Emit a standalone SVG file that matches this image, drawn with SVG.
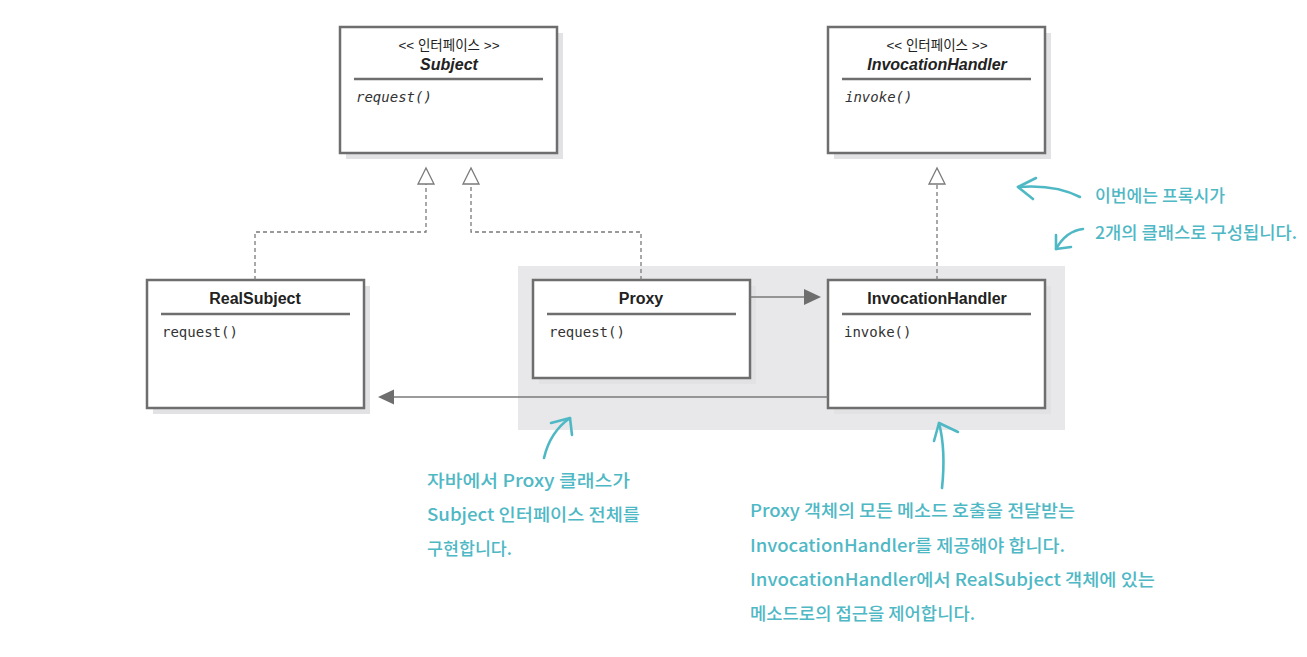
<svg xmlns="http://www.w3.org/2000/svg" width="1307" height="657" viewBox="0 0 1307 657">
<defs>
<style>
.shadow{fill:#e2e2e4}
.box{fill:#ffffff;stroke:#6e6e6e;stroke-width:2.5}
.sep{stroke:#6e6e6e;stroke-width:2.5}
.title{font-family:"Liberation Sans",Arial,sans-serif;font-weight:bold;font-size:16px;fill:#222;text-anchor:middle}
.ititle{font-family:"Liberation Sans",Arial,sans-serif;font-weight:bold;font-style:italic;font-size:16px;fill:#222;text-anchor:middle}
.stereo{font-family:"Liberation Sans","Noto Sans CJK KR",sans-serif;font-size:13.5px;fill:#222;text-anchor:middle}
.meth{font-family:"DejaVu Sans Mono","Liberation Mono",monospace;font-size:14px;fill:#333}
.imeth{font-family:"DejaVu Sans Mono","Liberation Mono",monospace;font-size:14px;fill:#333;font-style:italic}
.dash{fill:none;stroke:#7a7a7a;stroke-width:1.3;stroke-dasharray:4 3}
.hollow{fill:#fff;stroke:#7a7a7a;stroke-width:1.3}
.filled{fill:#6e6e6e}
.solid{fill:none;stroke:#7a7a7a;stroke-width:1.5}
.note{font-family:"Noto Sans CJK KR","Noto Sans",sans-serif;font-size:17px;font-weight:500;fill:#4fb8c5}
.tealline{fill:none;stroke:#4fb8c5;stroke-width:2.6;stroke-linecap:round;stroke-linejoin:round}
</style>
</defs>

<rect id="proxy-area" x="518" y="266" width="547" height="164" fill="#e8e8ea"/>

<g id="subject">
<rect class="shadow" x="346" y="33" width="217" height="126"/>
<rect class="box" x="340" y="27" width="217" height="126"/>
<text class="stereo" x="449" y="50">&lt;&lt; 인터페이스 &gt;&gt;</text>
<text class="ititle" x="449" y="70">Subject</text>
<line class="sep" x1="354" y1="79" x2="543" y2="79"/>
<text class="imeth" x="356" y="102">request()</text>
</g>

<g id="invocationhandler-interface">
<rect class="shadow" x="834" y="33" width="217" height="126"/>
<rect class="box" x="828" y="27" width="217" height="126"/>
<text class="stereo" x="937" y="50">&lt;&lt; 인터페이스 &gt;&gt;</text>
<text class="ititle" x="937" y="70">InvocationHandler</text>
<line class="sep" x1="842" y1="79" x2="1031" y2="79"/>
<text class="imeth" x="845" y="102">invoke()</text>
</g>

<g id="realsubject">
<rect class="shadow" x="153" y="286" width="217" height="128"/>
<rect class="box" x="147" y="280" width="217" height="128"/>
<text class="title" x="255" y="304">RealSubject</text>
<line class="sep" x1="161" y1="314" x2="350" y2="314"/>
<text class="meth" x="162" y="337">request()</text>
</g>

<g id="proxy">
<rect class="shadow" x="539" y="286" width="217" height="98"/>
<rect class="box" x="533" y="280" width="217" height="98"/>
<text class="title" x="641" y="304">Proxy</text>
<line class="sep" x1="547" y1="314" x2="736" y2="314"/>
<text class="meth" x="549" y="337">request()</text>
</g>

<g id="invocationhandler">
<rect class="shadow" x="834" y="286" width="217" height="128"/>
<rect class="box" x="828" y="280" width="217" height="128"/>
<text class="title" x="937" y="304">InvocationHandler</text>
<line class="sep" x1="842" y1="314" x2="1031" y2="314"/>
<text class="meth" x="844" y="337">invoke()</text>
</g>

<g id="connectors">
<polyline class="dash" points="255,280 255,232 426,232 426,184"/>
<polygon class="hollow" points="426,168 418,184 434,184"/>
<polyline class="dash" points="641,280 641,232 471,232 471,184"/>
<polygon class="hollow" points="471,168 463,184 479,184"/>
<polyline class="dash" points="937,280 937,184"/>
<polygon class="hollow" points="937,168 929,184 945,184"/>
<line class="solid" x1="751" y1="297" x2="806" y2="297"/>
<polygon class="filled" points="821,297 804,289 804,305"/>
<line class="solid" x1="828" y1="397" x2="392" y2="397"/>
<polygon class="filled" points="378,397 394,389.5 394,404.5"/>
</g>

<g id="note-top">
<path class="tealline" d="M1080,197 Q1055,184 1018,187"/>
<path class="tealline" d="M1036,178 L1018,187 L1033,199"/>
<path class="tealline" d="M1083,229 Q1066,231 1056,249"/>
<path class="tealline" d="M1056,235 L1056,249 L1071,247"/>
<text class="note" x="1095" y="202" textLength="130" lengthAdjust="spacingAndGlyphs">이번에는 프록시가</text>
<text class="note" x="1095" y="239" textLength="202" lengthAdjust="spacingAndGlyphs">2개의 클래스로 구성됩니다.</text>
</g>

<g id="note-left">
<path class="tealline" d="M544,458 Q550,432 570,418"/>
<path class="tealline" d="M551,423 L570,418 L572,435"/>
<text class="note" x="427" y="487" textLength="203" lengthAdjust="spacingAndGlyphs">자바에서 Proxy 클래스가</text>
<text class="note" x="427" y="521" textLength="213" lengthAdjust="spacingAndGlyphs">Subject 인터페이스 전체를</text>
<text class="note" x="427" y="555" textLength="85" lengthAdjust="spacingAndGlyphs">구현합니다.</text>
</g>

<g id="note-right">
<path class="tealline" d="M942,488 Q946,450 939,423"/>
<path class="tealline" d="M934,441 L939,423 L958,432"/>
<text class="note" x="750" y="517" textLength="325" lengthAdjust="spacingAndGlyphs">Proxy 객체의 모든 메소드 호출을 전달받는</text>
<text class="note" x="750" y="552" textLength="315" lengthAdjust="spacingAndGlyphs">InvocationHandler를 제공해야 합니다.</text>
<text class="note" x="750" y="586" textLength="405" lengthAdjust="spacingAndGlyphs">InvocationHandler에서 RealSubject 객체에 있는</text>
<text class="note" x="750" y="620" textLength="225" lengthAdjust="spacingAndGlyphs">메소드로의 접근을 제어합니다.</text>
</g>
</svg>
